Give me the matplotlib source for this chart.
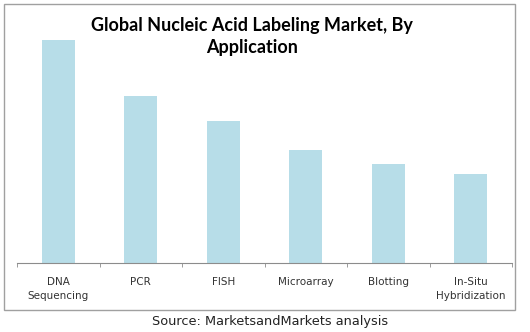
import matplotlib.pyplot as plt
from matplotlib.patches import Rectangle

categories = ['DNA\nSequencing', 'PCR', 'FISH', 'Microarray', 'Blotting', 'In-Situ\nHybridization']
values = [223, 167, 142, 113, 99, 89]

fig = plt.figure(figsize=(5.3, 3.32), dpi=100)
ax = fig.add_axes([17/530, 69/332, 495/530, 223/332])

x = range(len(categories))
ax.bar(x, values, width=0.4, color='#b7dde8')
ax.set_xlim(-0.5, len(categories) - 0.5)
ax.set_ylim(0, 223)

for s in ['top', 'right', 'left']:
    ax.spines[s].set_visible(False)
ax.spines['bottom'].set_color('#8c8c8c')
ax.set_yticks([])
ax.set_xticks(list(x))
ax.set_xticklabels(categories, fontsize=7.5, color='#333333', linespacing=1.55)
ax.tick_params(axis='x', length=0, pad=10)
ax.set_xticks([i - 0.5 for i in range(len(categories) + 1)], minor=True)
ax.tick_params(axis='x', which='minor', length=3, color='#8c8c8c')

# chart border
fig.patches.append(Rectangle((4/530, (332-310)/332), 511/530, 306/332,
                             transform=fig.transFigure, fill=False,
                             edgecolor='#a0a0a0', linewidth=1))

fig.text(252/530, 1 - 36.5/332, 'Global Nucleic Acid Labeling Market, By\nApplication',
         ha='center', va='center', fontsize=13, fontweight='bold', family='Lato',
         linespacing=1.4)
fig.text(270/530, 1 - 321/332, 'Source: MarketsandMarkets analysis',
         ha='center', va='center', fontsize=9.3, color='#222222')

fig.savefig('out.png', dpi=100)
